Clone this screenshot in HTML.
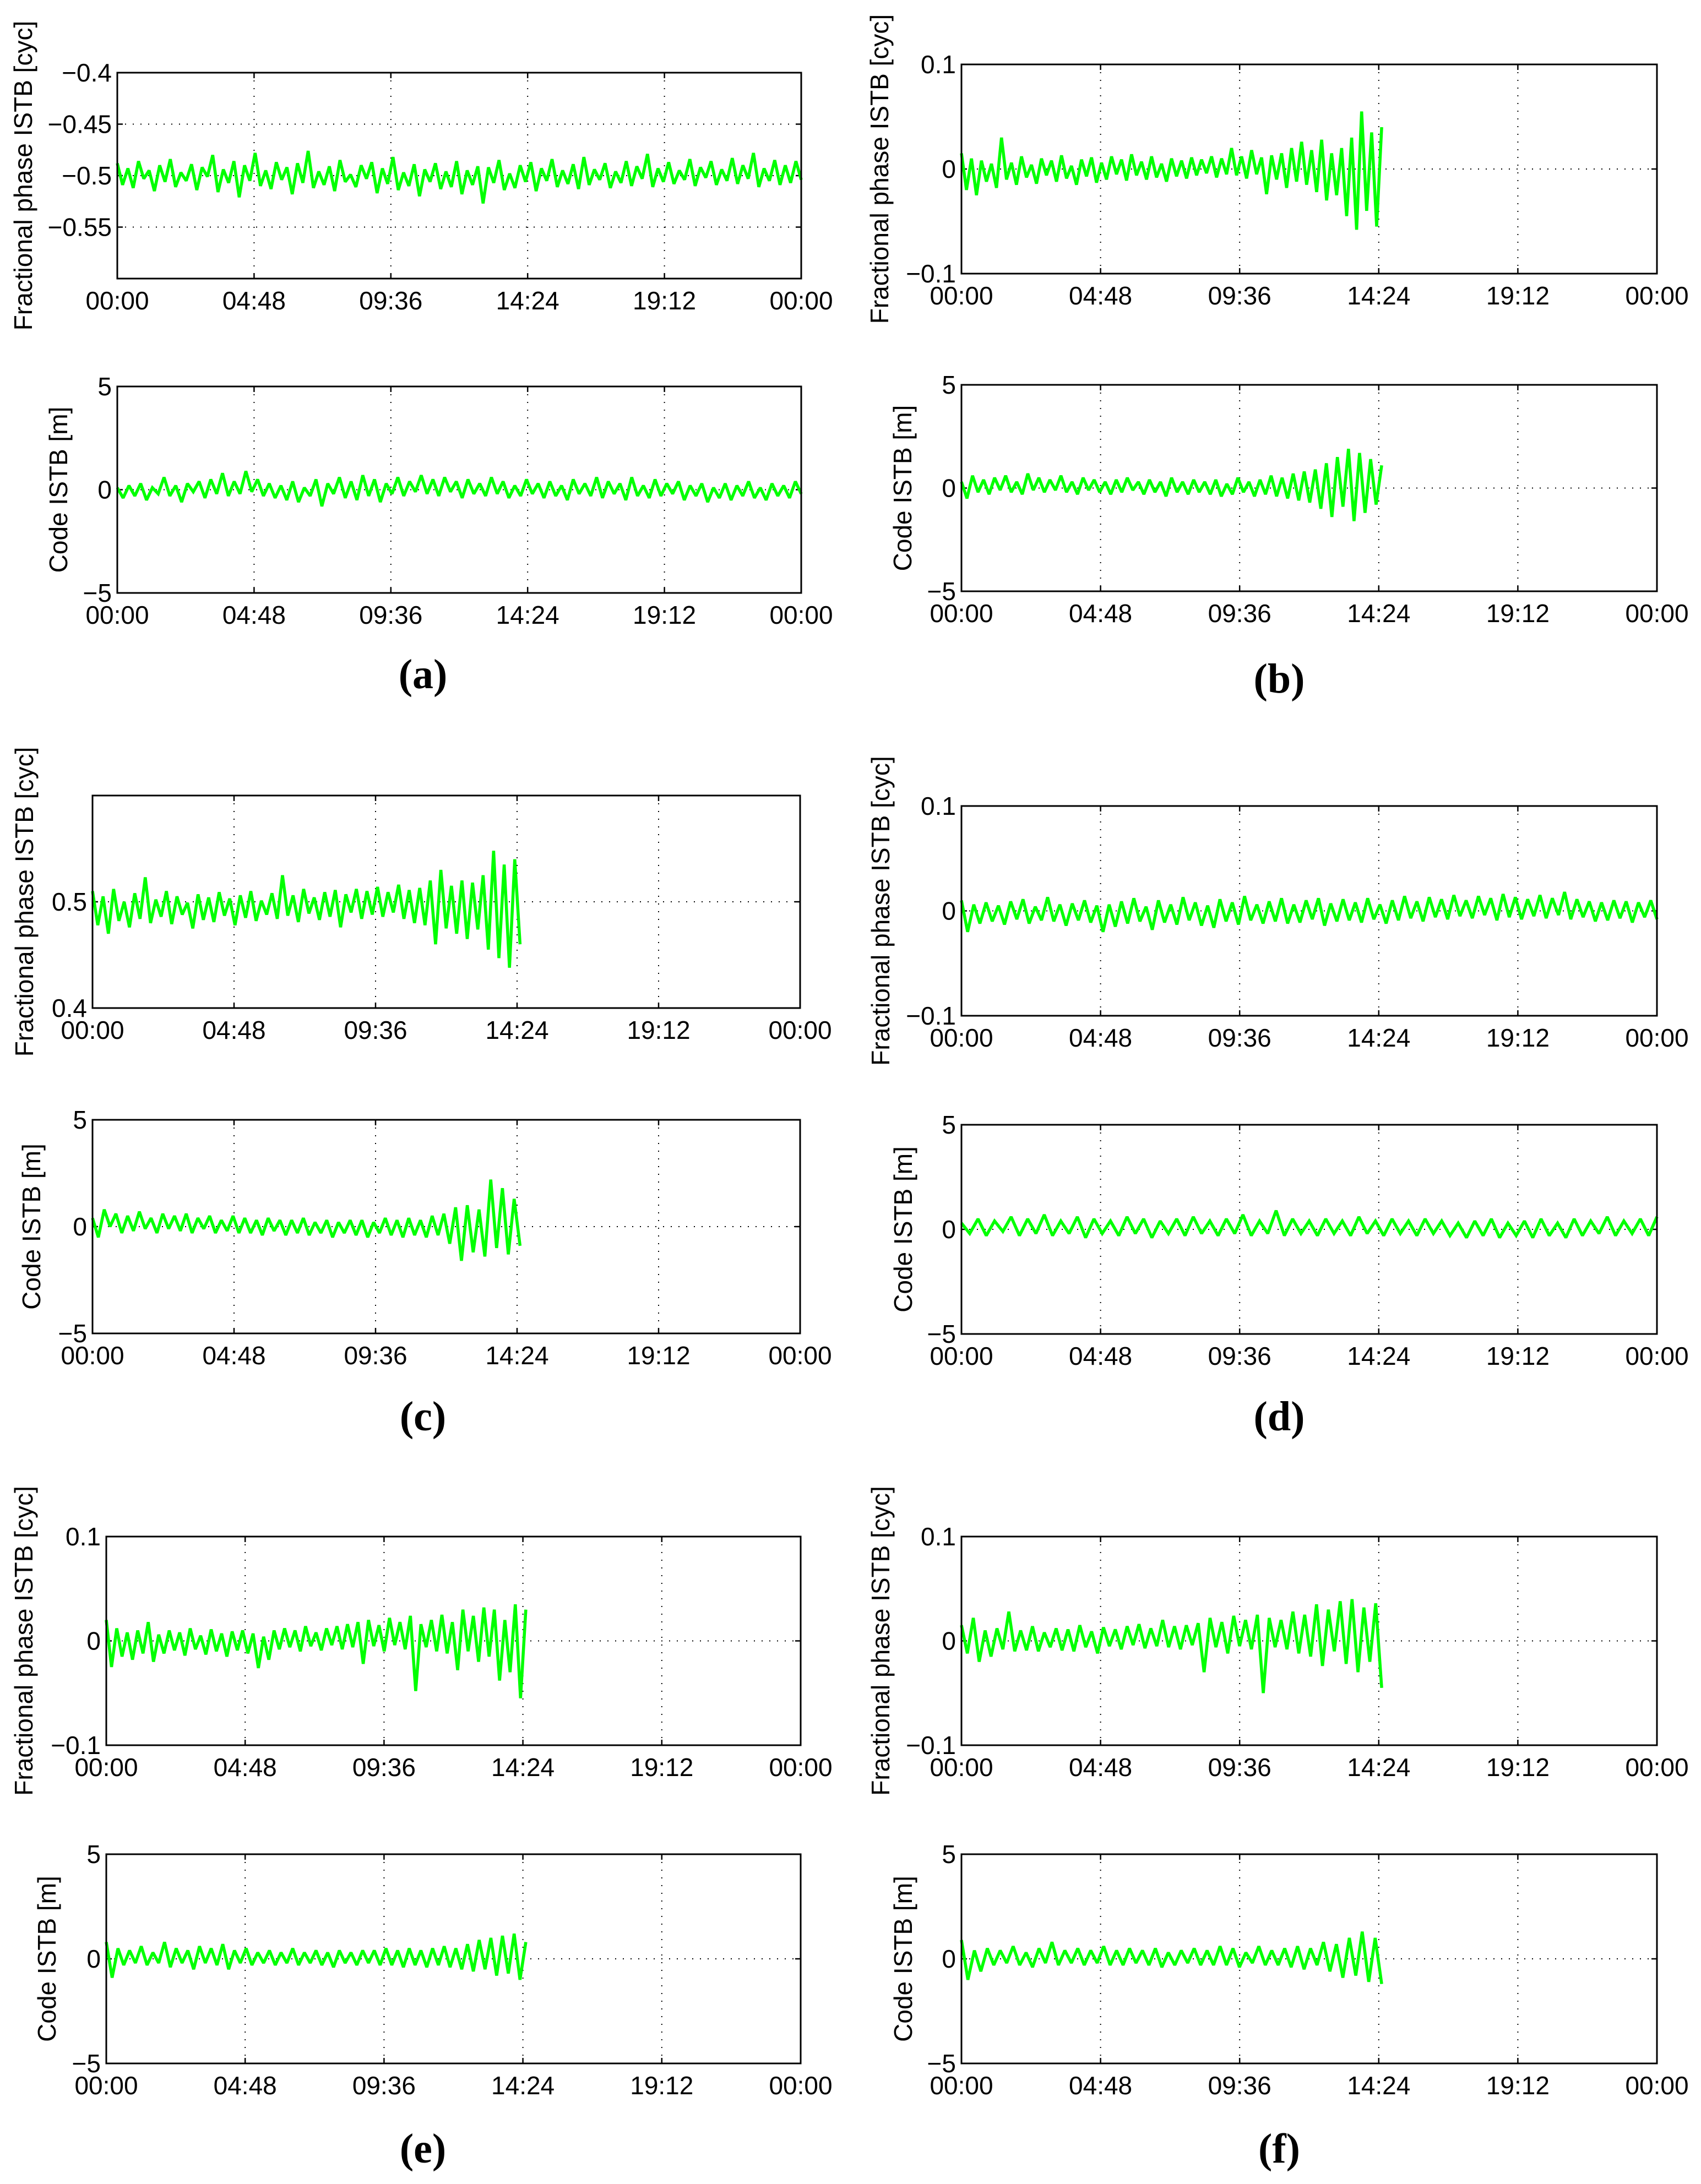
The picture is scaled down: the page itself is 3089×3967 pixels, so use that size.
<!DOCTYPE html>
<html><head><meta charset="utf-8">
<style>
html,body{margin:0;padding:0;background:#fff;}
svg{display:block;}
text{font-family:"Liberation Sans",sans-serif;fill:#000;}
.sub{font-family:"Liberation Serif",serif;font-weight:bold;}
</style></head>
<body>
<svg id="fig" width="3089" height="3967" viewBox="0 0 3089 3967" xmlns="http://www.w3.org/2000/svg"></svg>
<script>
const xTickLabels = ["00:00","04:48","09:36","14:24","19:12","00:00"];
const xTickHours = [0,4.8,9.6,14.4,19.2,24];

const aPhase = [-0.488,-0.509,-0.493,-0.512,-0.486,-0.503,-0.495,-0.515,-0.49,-0.506,-0.484,-0.511,-0.497,-0.505,-0.489,-0.514,-0.492,-0.501,-0.48,-0.516,-0.494,-0.507,-0.486,-0.521,-0.49,-0.505,-0.478,-0.51,-0.495,-0.513,-0.487,-0.504,-0.492,-0.518,-0.488,-0.507,-0.476,-0.512,-0.496,-0.509,-0.491,-0.515,-0.485,-0.506,-0.499,-0.511,-0.49,-0.503,-0.487,-0.517,-0.493,-0.508,-0.482,-0.514,-0.497,-0.51,-0.489,-0.52,-0.494,-0.506,-0.488,-0.513,-0.496,-0.511,-0.486,-0.518,-0.495,-0.509,-0.491,-0.527,-0.492,-0.507,-0.485,-0.514,-0.498,-0.512,-0.49,-0.506,-0.487,-0.515,-0.493,-0.505,-0.484,-0.511,-0.495,-0.508,-0.489,-0.513,-0.482,-0.509,-0.494,-0.504,-0.488,-0.512,-0.496,-0.507,-0.486,-0.51,-0.491,-0.503,-0.479,-0.511,-0.493,-0.506,-0.487,-0.508,-0.495,-0.504,-0.484,-0.51,-0.492,-0.502,-0.486,-0.509,-0.494,-0.505,-0.483,-0.508,-0.49,-0.503,-0.478,-0.511,-0.493,-0.505,-0.485,-0.509,-0.49,-0.507,-0.486,-0.504];
const aCode = [0.1,-0.4,0.2,-0.3,0.3,-0.5,0.1,-0.2,0.6,-0.3,0.2,-0.6,0.3,-0.1,0.4,-0.4,0.5,-0.2,0.8,-0.3,0.4,-0.2,0.9,-0.1,0.5,-0.3,0.3,-0.4,0.2,-0.5,0.4,-0.6,0.1,-0.3,0.5,-0.8,0.3,-0.2,0.6,-0.4,0.4,-0.5,0.7,-0.3,0.5,-0.6,0.3,-0.2,0.6,-0.3,0.4,-0.1,0.7,-0.2,0.5,-0.3,0.6,-0.1,0.4,-0.4,0.5,-0.2,0.3,-0.3,0.6,-0.2,0.4,-0.4,0.2,-0.3,0.5,-0.2,0.3,-0.4,0.4,-0.3,0.2,-0.5,0.5,-0.2,0.3,-0.3,0.6,-0.4,0.4,-0.2,0.3,-0.5,0.6,-0.3,0.2,-0.4,0.5,-0.3,0.3,-0.2,0.4,-0.5,0.2,-0.3,0.3,-0.6,0.1,-0.4,0.3,-0.5,0.2,-0.3,0.4,-0.4,0.1,-0.5,0.3,-0.3,0.2,-0.4,0.4,-0.2];
const bPhase = [0.015,-0.02,0.01,-0.025,0.008,-0.012,0.005,-0.018,0.03,-0.01,0.006,-0.015,0.012,-0.008,0.004,-0.014,0.01,-0.006,0.008,-0.012,0.013,-0.009,0.003,-0.015,0.009,-0.007,0.011,-0.013,0.006,-0.01,0.012,-0.005,0.009,-0.011,0.014,-0.006,0.007,-0.01,0.012,-0.008,0.005,-0.012,0.01,-0.007,0.008,-0.009,0.011,-0.006,0.009,-0.004,0.012,-0.008,0.01,-0.005,0.02,-0.006,0.012,-0.009,0.018,-0.005,0.011,-0.024,0.013,-0.01,0.015,-0.018,0.02,-0.012,0.026,-0.015,0.018,-0.022,0.028,-0.03,0.015,-0.025,0.02,-0.045,0.03,-0.058,0.055,-0.04,0.035,-0.055,0.04];
const bCode = [0.3,-0.5,0.6,-0.2,0.4,-0.3,0.5,-0.1,0.6,-0.2,0.3,-0.3,0.7,-0.1,0.5,-0.2,0.4,-0.1,0.6,-0.2,0.3,-0.3,0.5,-0.1,0.4,-0.2,0.3,-0.3,0.4,-0.2,0.5,-0.1,0.3,-0.3,0.4,-0.2,0.3,-0.4,0.5,-0.2,0.3,-0.3,0.4,-0.2,0.3,-0.3,0.4,-0.4,0.2,-0.3,0.5,-0.2,0.3,-0.4,0.4,-0.3,0.6,-0.4,0.5,-0.5,0.7,-0.6,0.8,-0.7,0.9,-1.0,1.2,-1.4,1.5,-0.9,1.9,-1.6,1.7,-1.2,1.4,-0.8,1.1];
const cPhase = [0.51,0.478,0.505,0.47,0.512,0.482,0.5,0.476,0.508,0.484,0.523,0.48,0.502,0.486,0.51,0.479,0.505,0.488,0.499,0.475,0.507,0.483,0.504,0.481,0.509,0.487,0.503,0.478,0.506,0.485,0.51,0.482,0.501,0.488,0.508,0.484,0.525,0.487,0.506,0.481,0.512,0.489,0.504,0.483,0.509,0.486,0.511,0.476,0.507,0.49,0.512,0.484,0.51,0.488,0.514,0.486,0.509,0.49,0.516,0.484,0.511,0.48,0.513,0.478,0.52,0.46,0.53,0.475,0.515,0.47,0.52,0.465,0.518,0.474,0.525,0.455,0.548,0.447,0.535,0.438,0.54,0.46];
const cCode = [0.4,-0.5,0.8,0,0.6,-0.3,0.5,-0.2,0.7,-0.1,0.4,-0.3,0.6,-0.1,0.5,-0.2,0.6,-0.3,0.4,-0.1,0.5,-0.3,0.3,-0.2,0.5,-0.3,0.4,-0.3,0.3,-0.4,0.4,-0.2,0.3,-0.4,0.3,-0.3,0.4,-0.4,0.2,-0.3,0.3,-0.5,0.2,-0.3,0.3,-0.4,0.3,-0.5,0.2,-0.3,0.4,-0.4,0.3,-0.5,0.4,-0.4,0.3,-0.5,0.5,-0.4,0.6,-0.8,0.9,-1.6,1.0,-1.2,0.8,-1.4,2.2,-1.0,1.8,-1.3,1.3,-0.9];
const dPhase = [0.01,-0.02,0.006,-0.012,0.008,-0.01,0.005,-0.013,0.009,-0.008,0.011,-0.012,0.004,-0.009,0.013,-0.01,0.006,-0.014,0.007,-0.009,0.01,-0.011,0.005,-0.02,0.006,-0.015,0.009,-0.012,0.012,-0.01,0.004,-0.018,0.01,-0.011,0.006,-0.013,0.013,-0.009,0.008,-0.014,0.005,-0.016,0.011,-0.01,0.008,-0.013,0.014,-0.009,0.006,-0.012,0.009,-0.01,0.012,-0.012,0.006,-0.011,0.01,-0.008,0.012,-0.014,0.007,-0.01,0.011,-0.009,0.008,-0.011,0.012,-0.008,0.006,-0.012,0.01,-0.009,0.014,-0.007,0.009,-0.01,0.013,-0.006,0.011,-0.008,0.015,-0.005,0.01,-0.007,0.014,-0.004,0.012,-0.009,0.016,-0.006,0.013,-0.008,0.011,-0.005,0.015,-0.007,0.012,-0.004,0.018,-0.008,0.011,-0.006,0.009,-0.01,0.008,-0.009,0.01,-0.007,0.009,-0.011,0.008,-0.006,0.01,-0.008];
const dCode = [0.3,-0.2,0.5,-0.3,0.4,-0.1,0.6,-0.3,0.5,-0.2,0.7,-0.3,0.4,-0.2,0.6,-0.4,0.5,-0.2,0.4,-0.3,0.6,-0.2,0.5,-0.4,0.4,-0.2,0.5,-0.3,0.6,-0.2,0.4,-0.3,0.5,-0.2,0.7,-0.3,0.4,-0.2,0.9,-0.3,0.5,-0.2,0.4,-0.3,0.5,-0.2,0.4,-0.3,0.6,-0.2,0.4,-0.3,0.5,-0.2,0.4,-0.3,0.5,-0.2,0.4,-0.3,0.3,-0.4,0.4,-0.3,0.5,-0.4,0.3,-0.3,0.4,-0.4,0.5,-0.3,0.3,-0.4,0.5,-0.3,0.4,-0.2,0.6,-0.3,0.4,-0.2,0.5,-0.3,0.6];
const ePhase = [0.02,-0.025,0.012,-0.015,0.008,-0.018,0.01,-0.012,0.018,-0.02,0.006,-0.012,0.01,-0.009,0.008,-0.014,0.012,-0.008,0.005,-0.013,0.011,-0.01,0.007,-0.015,0.009,-0.009,0.01,-0.012,0.007,-0.026,0.004,-0.018,0.01,-0.008,0.012,-0.006,0.01,-0.01,0.014,-0.005,0.008,-0.009,0.012,-0.004,0.014,-0.008,0.016,-0.006,0.018,-0.022,0.02,-0.005,0.015,-0.01,0.022,-0.004,0.018,-0.008,0.024,-0.048,0.016,-0.006,0.02,-0.01,0.025,-0.012,0.018,-0.028,0.03,-0.01,0.024,-0.02,0.032,-0.015,0.03,-0.038,0.02,-0.03,0.035,-0.055,0.03];
const eCode = [0.8,-0.9,0.5,-0.3,0.4,-0.2,0.6,-0.3,0.3,-0.2,0.8,-0.4,0.5,-0.2,0.4,-0.5,0.6,-0.2,0.5,-0.3,0.7,-0.5,0.4,-0.2,0.5,-0.3,0.3,-0.2,0.4,-0.3,0.3,-0.2,0.5,-0.3,0.3,-0.2,0.4,-0.3,0.3,-0.4,0.4,-0.2,0.3,-0.3,0.4,-0.2,0.4,-0.3,0.5,-0.3,0.4,-0.4,0.5,-0.3,0.4,-0.4,0.5,-0.3,0.6,-0.4,0.5,-0.5,0.7,-0.6,0.9,-0.5,1.0,-0.8,1.1,-0.7,1.2,-1.0,0.8];
const fPhase = [0.015,-0.012,0.022,-0.02,0.01,-0.015,0.012,-0.008,0.028,-0.01,0.01,-0.009,0.014,-0.01,0.008,-0.006,0.012,-0.009,0.011,-0.01,0.015,-0.006,0.009,-0.012,0.013,-0.005,0.011,-0.008,0.014,-0.004,0.016,-0.007,0.012,-0.005,0.02,-0.006,0.014,-0.008,0.015,-0.004,0.017,-0.03,0.022,-0.006,0.018,-0.012,0.024,-0.005,0.02,-0.008,0.025,-0.05,0.022,-0.006,0.02,-0.008,0.028,-0.012,0.025,-0.015,0.035,-0.024,0.03,-0.01,0.038,-0.022,0.04,-0.03,0.032,-0.02,0.036,-0.045];
const fCode = [0.9,-1.0,0.4,-0.6,0.5,-0.3,0.4,-0.2,0.6,-0.3,0.3,-0.4,0.5,-0.2,0.8,-0.3,0.4,-0.2,0.5,-0.3,0.4,-0.2,0.6,-0.3,0.4,-0.3,0.5,-0.2,0.4,-0.3,0.5,-0.4,0.3,-0.3,0.4,-0.2,0.5,-0.3,0.4,-0.3,0.6,-0.3,0.5,-0.4,0.3,-0.2,0.6,-0.3,0.4,-0.3,0.5,-0.4,0.6,-0.5,0.5,-0.3,0.8,-0.6,0.7,-0.9,1.0,-0.8,1.3,-1.1,1.0,-1.2];

const phaseTicksA = [-0.4,-0.45,-0.5,-0.55];
const phaseTicksC = [0.4,0.5];
const phaseTicks = [-0.1,0,0.1];
const codeTicks = [-5,0,5];
const endFull = 24, endPartial = 14.5;

const NS = "http://www.w3.org/2000/svg";
const svg = document.getElementById('fig');
function el(tag, attrs, parent){const e=document.createElementNS(NS,tag);for(const k in attrs)e.setAttribute(k,attrs[k]);(parent||svg).appendChild(e);return e;}
function fmt(v){let s=String(v);return s.replace('-','\u2212');}

function panel(key, x0, x1, y0, y1, ymin, ymax, ticks, gridTicks, values, tEnd, ylabel, ylabelX){
  const g=el('g',{});
  
  
  const sx=h=>x0+(h/24)*(x1-x0);
  const sy=v=>y1-(v-ymin)/(ymax-ymin)*(y1-y0);
  xTickHours.forEach((h,i)=>{
    const x=sx(h);
    if(i>0&&i<xTickHours.length-1){
      const gl=el('line',{x1:x,x2:x,y1:y0,y2:y1,stroke:'#000','stroke-width':2,'stroke-dasharray':'2 12'},g);
      
      
    }
    el('line',{x1:x,x2:x,y1:y0,y2:y0+10,stroke:'#000','stroke-width':2.5},g);
    el('line',{x1:x,x2:x,y1:y1,y2:y1-10,stroke:'#000','stroke-width':2.5},g);
    const t=el('text',{x:x,y:y1+56,'font-size':46,'text-anchor':'middle'},g);
    t.textContent=xTickLabels[i];
    
    
  });
  gridTicks.forEach(v=>{
    const y=sy(v);
    const gl=el('line',{x1:x0,x2:x1,y1:y,y2:y,stroke:'#000','stroke-width':2,'stroke-dasharray':'2 12'},g);
    
    
  });
  ticks.forEach(v=>{
    const y=sy(v);
    el('line',{x1:x0,x2:x0+10,y1:y,y2:y,stroke:'#000','stroke-width':2.5},g);
    el('line',{x1:x1,x2:x1-10,y1:y,y2:y,stroke:'#000','stroke-width':2.5},g);
    const t=el('text',{x:x0-10,y:y+16,'font-size':46,'text-anchor':'end'},g);
    t.textContent=fmt(v);
    
    
  });
  const n=values.length;
  const pts=values.map((v,i)=>sx(i/(n-1)*tEnd).toFixed(1)+','+sy(v).toFixed(1)).join(' ');
  const pl=el('polyline',{points:pts,fill:'none',stroke:'#00ff00','stroke-width':5.5,'stroke-linejoin':'miter','stroke-miterlimit':2},g);
  
  
  const box=el('rect',{x:x0,y:y0,width:x1-x0,height:y1-y0,fill:'none',stroke:'#000','stroke-width':3},g);
  
  
  const cy=(y0+y1)/2;
  const yl=el('text',{x:ylabelX,y:cy,'font-size':46,'text-anchor':'middle',transform:`rotate(-90 ${ylabelX} ${cy})`},g);
  yl.textContent=ylabel;
  
  
}
function sub(txt,x,y){
  const t=el('text',{x:x,y:y,'font-size':76,'text-anchor':'middle',class:'sub'});
  t.textContent=txt;
  
  
}
const PH="Fractional phase ISTB [cyc]", CD="Code ISTB [m]";
const RX=[1746,3009];
panel('a-phase',213,1455,132,506,-0.6,-0.4,phaseTicksA,[-0.45,-0.5,-0.55],aPhase,endFull,PH,58);
panel('a-code',213,1455,702,1077,-5,5,codeTicks,[0],aCode,endFull,CD,122);
sub('(a)',768,1250);
panel('b-phase',RX[0],RX[1],117,497,-0.1,0.1,phaseTicks,[0],bPhase,endPartial,PH,1613);
panel('b-code',RX[0],RX[1],699,1074,-5,5,codeTicks,[0],bCode,endPartial,CD,1655);
sub('(b)',2323,1258);
panel('c-phase',168,1453,1445,1831,0.4,0.6,phaseTicksC,[0.5],cPhase,endPartial,PH,60);
panel('c-code',168,1453,2034,2422,-5,5,codeTicks,[0],cCode,endPartial,CD,73);
sub('(c)',768,2598);
panel('d-phase',RX[0],RX[1],1464,1845,-0.1,0.1,phaseTicks,[0],dPhase,endFull,PH,1615);
panel('d-code',RX[0],RX[1],2043,2423,-5,5,codeTicks,[0],dCode,endFull,CD,1656);
sub('(d)',2323,2598);
panel('e-phase',193,1454,2791,3170,-0.1,0.1,phaseTicks,[0],ePhase,endPartial,PH,59);
panel('e-code',193,1454,3368,3748,-5,5,codeTicks,[0],eCode,endPartial,CD,101);
sub('(e)',768,3928);
panel('f-phase',RX[0],RX[1],2791,3170,-0.1,0.1,phaseTicks,[0],fPhase,endPartial,PH,1615);
panel('f-code',RX[0],RX[1],3368,3748,-5,5,codeTicks,[0],fCode,endPartial,CD,1656);
sub('(f)',2323,3928);
</script>
</body></html>
